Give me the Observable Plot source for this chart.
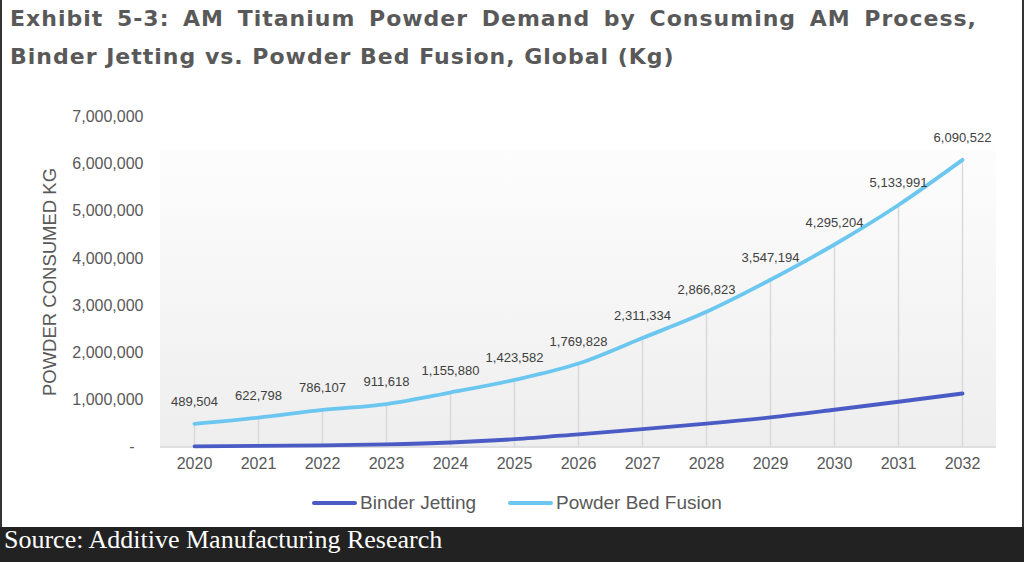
<!DOCTYPE html>
<html>
<head>
<meta charset="utf-8">
<script src="https://cdn.jsdelivr.net/npm/d3@7"></script>
<script src="https://cdn.jsdelivr.net/npm/@observablehq/plot@0.6"></script>
<style>
  html, body { margin: 0; padding: 0; background: #fff; }
  body { width: 1024px; height: 562px; position: relative; overflow: hidden; font-family: "Liberation Sans", Arial, sans-serif; }
  #frame { position: absolute; left: 0; top: 0; width: 1020px; height: 527px; border-left: 2px solid #333; border-right: 2px solid #333; }
  #title { position: absolute; left: 10px; top: 0px; font-family: "DejaVu Sans", Verdana, sans-serif; font-weight: bold; font-size: 22px; letter-spacing: 1px; line-height: 38px; color: #595959; white-space: nowrap; }
  #title .l1 { word-spacing: 5px; }
  #chart { position: absolute; left: 0; top: 80px; }
  #legend { position: absolute; top: 490px; left: 0; width: 1024px; height: 26px; }
  .item { position: absolute; top: 0; display: flex; align-items: center; font-size: 19px; color: #595959; height: 26px; }
  .sw { width: 45px; height: 3.5px; margin-right: 3px; border-radius: 2px; }
  #source { position: absolute; left: 0; top: 527px; width: 1024px; height: 35px; background: #222; color: #fff; font-family: "Liberation Serif", "Times New Roman", serif; font-size: 26px; line-height: 25px; padding-left: 4px; box-sizing: border-box; white-space: nowrap; }
</style>
</head>
<body>
<div id="frame"></div>
<div id="title"><span class="l1">Exhibit 5-3: AM Titanium Powder Demand by Consuming AM Process,</span><br>Binder Jetting vs. Powder Bed Fusion, Global (Kg)</div>
<div id="chart"></div>
<div id="legend"></div>
<div id="source">Source: Additive Manufacturing Research</div>
<script>
const years = [2020, 2021, 2022, 2023, 2024, 2025, 2026, 2027, 2028, 2029, 2030, 2031, 2032];
const powderBedFusion = [489504, 622798, 786107, 911618, 1155880, 1423582, 1769828, 2311334, 2866823, 3547194, 4295204, 5133991, 6090522];
const binderJetting = [15000, 25000, 35000, 55000, 95000, 165000, 270000, 380000, 495000, 628000, 790000, 960000, 1135000];
const yTicks = [0, 1000000, 2000000, 3000000, 4000000, 5000000, 6000000, 7000000];
const seriesNames = ["Binder Jetting", "Powder Bed Fusion"];
const seriesColors = ["#4a5bc6", "#6cc7f0"];
const yLabel = "POWDER CONSUMED KG";

const rows = [];
years.forEach((yr, i) => {
  rows.push({year: yr, series: seriesNames[0], value: binderJetting[i]});
  rows.push({year: yr, series: seriesNames[1], value: powderBedFusion[i]});
});
const pbf = rows.filter(d => d.series === seriesNames[1]);
const fmt = d3.format(",");

const chart = Plot.plot({
  width: 1024,
  height: 400,
  marginLeft: 160,
  marginRight: 28,
  marginTop: 36.5,
  marginBottom: 33.5,
  style: {fontFamily: "'Liberation Sans', Arial, sans-serif", background: "transparent"},
  x: {type: "point", domain: years, padding: 0.5},
  y: {domain: [0, 7000000]},
  color: {domain: seriesNames, range: seriesColors},
  marks: [
    Plot.rect([{}], {y1: 0, y2: 6300000, fill: "url(#bgGrad)"}),
    Plot.ruleY([0], {stroke: "#d6d6d6", strokeWidth: 1.5}),
    Plot.ruleX(pbf, {x: "year", y1: 0, y2: "value", stroke: "#d9d9d9", strokeWidth: 1.5}),
    Plot.line(rows, {x: "year", y: "value", z: "series", stroke: "series", strokeWidth: 3.8, curve: "monotone-x"}),
    Plot.text(pbf, {x: "year", y: "value", text: d => fmt(d.value), dy: -22, fontSize: 13, fill: "#404040"}),
    Plot.axisX({ticks: years, tickSize: 0, tickPadding: 11, tickFormat: d => String(d), fontSize: 16, color: "#595959", label: null}),
    Plot.axisY({ticks: yTicks, tickSize: 0, tickPadding: 17, tickFormat: d => d === 0 ? "-\u00a0\u00a0" : fmt(d), fontSize: 16, color: "#595959", label: null}),
    Plot.axisY({ticks: [], tickSize: 0, label: yLabel, labelAnchor: "center", labelArrow: "none", labelOffset: 118, fontSize: 18.5, color: "#595959"})
  ]
});

// gradient for plot-area background
const ns = "http://www.w3.org/2000/svg";
const svg = chart.tagName.toLowerCase() === "svg" ? chart : chart.querySelector("svg");
const defs = document.createElementNS(ns, "defs");
const grad = document.createElementNS(ns, "linearGradient");
grad.setAttribute("id", "bgGrad");
grad.setAttribute("x1", "0"); grad.setAttribute("y1", "0");
grad.setAttribute("x2", "0"); grad.setAttribute("y2", "1");
[["0%", "#fdfdfd"], ["100%", "#eeeeee"]].forEach(([o, c]) => {
  const s = document.createElementNS(ns, "stop");
  s.setAttribute("offset", o); s.setAttribute("stop-color", c);
  grad.appendChild(s);
});
defs.appendChild(grad);
svg.insertBefore(defs, svg.firstChild);
document.getElementById("chart").appendChild(chart);

// legend
const legend = document.getElementById("legend");
const legendLeft = [312, 508];
seriesNames.forEach((name, i) => {
  const item = document.createElement("div");
  item.className = "item";
  item.style.left = legendLeft[i] + "px";
  const sw = document.createElement("div");
  sw.className = "sw";
  sw.style.background = seriesColors[i];
  const t = document.createElement("span");
  t.textContent = name;
  item.appendChild(sw);
  item.appendChild(t);
  legend.appendChild(item);
});
</script>
</body>
</html>
